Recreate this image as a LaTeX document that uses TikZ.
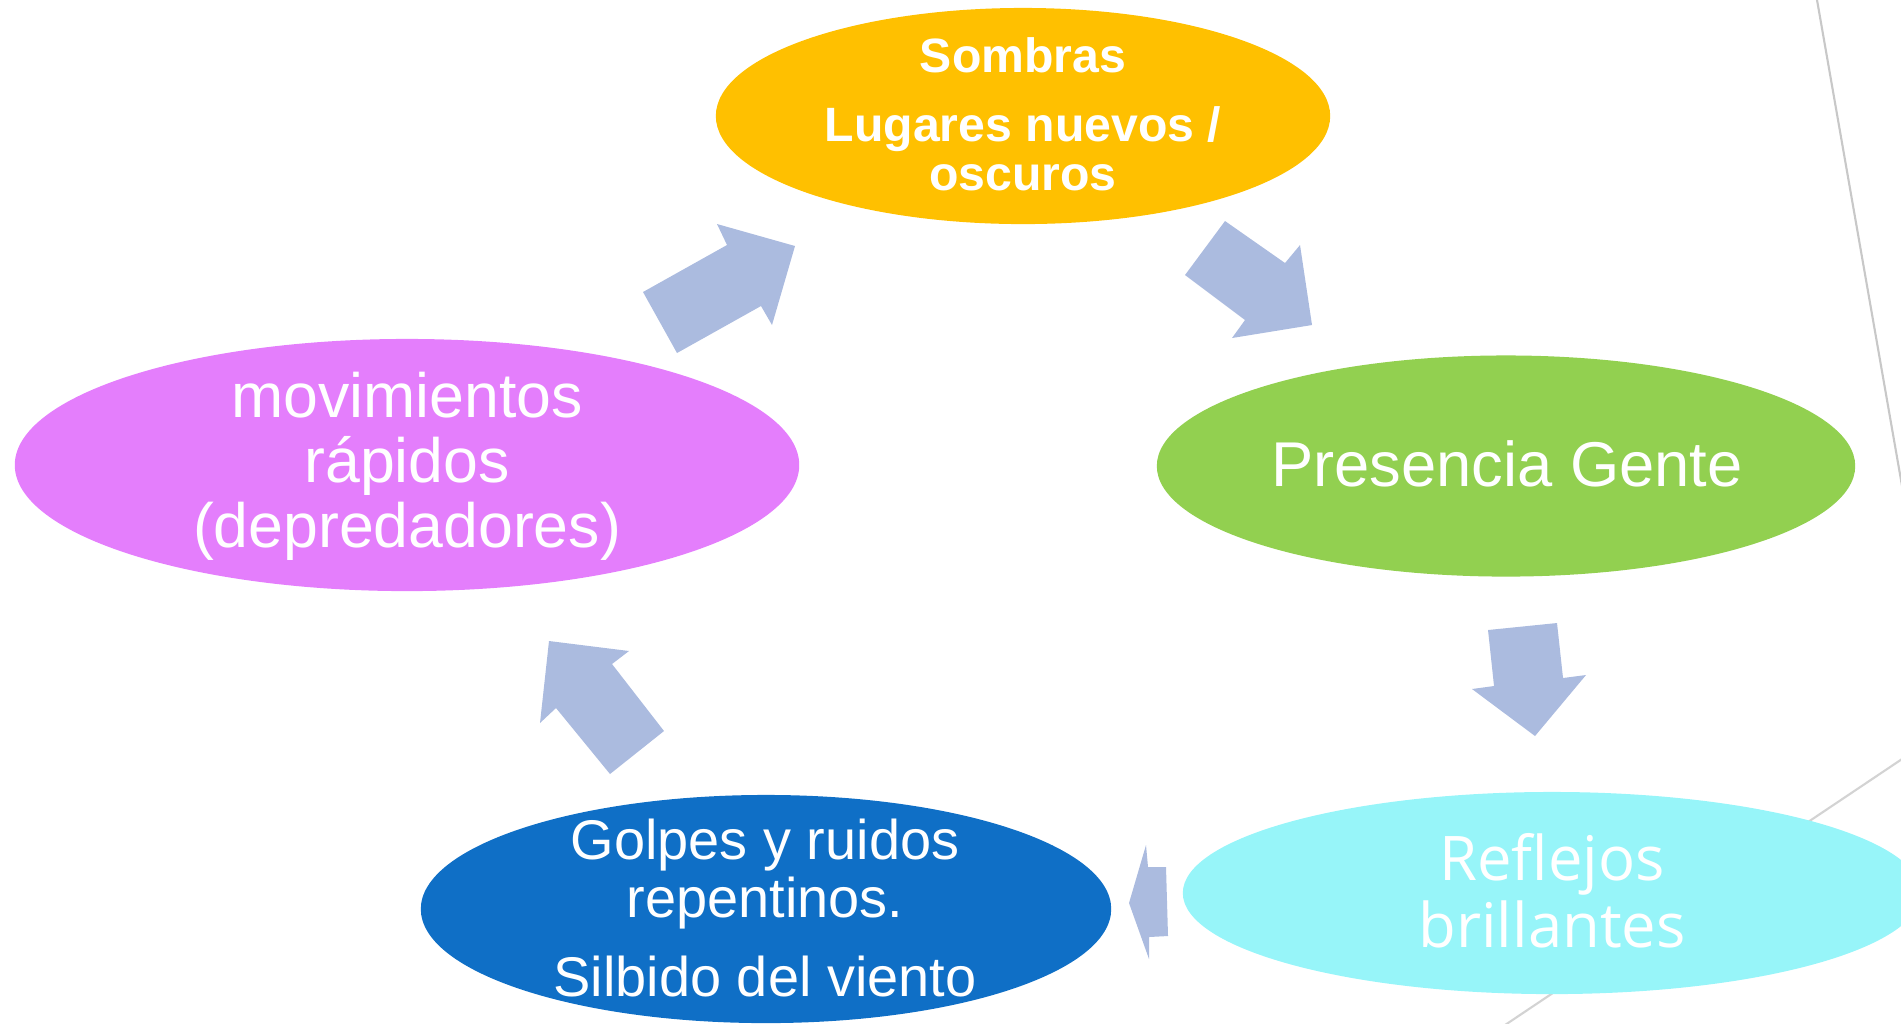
\documentclass[tikz,border=0pt]{standalone}
\usepackage{fontspec}
\setmainfont{Liberation Sans}
\newfontfamily\osfont{Open Sans}
\usetikzlibrary{shapes.geometric}
\definecolor{cyel}{HTML}{FFC000}
\definecolor{cgreen}{HTML}{92D050}
\definecolor{cmag}{HTML}{E47EFC}
\definecolor{cblue}{HTML}{0F6FC6}
\definecolor{ccyan}{HTML}{97F5F9}
\definecolor{carrow}{HTML}{ABBBDF}
\definecolor{cline}{HTML}{C8C8C8}
\tikzset{
  oval/.style={ellipse, draw=none, inner sep=0pt},
  txt/.style={text=white, align=center, inner sep=0pt},
  blockarrow/.style={fill=carrow, draw=none},
  guideline/.style={draw=cline, line width=0.6pt}
}
\begin{document}
\begin{tikzpicture}[x=0.01cm,y=-0.01cm]
\useasboundingbox (0,0) rectangle (1901,1023);
\clip (0,0) rectangle (1901,1023);
% background guide lines
\coordinate (l1a) at (1817,0);
\coordinate (l1b) at (1905,503);
\coordinate (l2a) at (1905,757);
\coordinate (l2b) at (1505,1025);
\draw[guideline] (l1a) -- (l1b);
\draw[guideline, draw=cline!80] (l2a) -- (l2b);
% ellipses
\node[oval, fill=cyel, minimum width=6.14cm, minimum height=2.16cm] (yel) at (1023,116) {};
\node[oval, fill=cgreen, minimum width=6.98cm, minimum height=2.21cm] (grn) at (1506,466) {};
\node[oval, fill=ccyan, minimum width=7.38cm, minimum height=2.02cm] (cya) at (1552,893) {};
\node[oval, fill=cblue, minimum width=6.90cm, minimum height=2.28cm] (blu) at (766,909) {};
\node[oval, fill=cmag, minimum width=7.84cm, minimum height=2.52cm] (mag) at (407,465) {};
% texts
\node[txt, font=\bfseries\fontsize{13.7}{14}\selectfont] (yeltxt) at (1023,114)
  {Sombras\\[5.6pt]Lugares nuevos /\\oscuros};
\node[txt, font=\fontsize{18}{19}\selectfont] (grntxt) at (1507,464) {Presencia Gente};
\node[txt, font=\osfont\fontsize{17.5}{19}\selectfont] (cyatxt) at (1552,891) {Reflejos\\brillantes};
\node[txt, font=\fontsize{15.9}{16.5}\selectfont] (blutxt) at (765,908)
  {Golpes y ruidos\\repentinos.\\[6pt]Silbido del viento};
\node[txt, font=\fontsize{17.8}{18.5}\selectfont] (magtxt) at (407,466)
  {movimientos\\rápidos\\(depredadores)};
% block arrows
\fill[blockarrow] (643,292) -- (727,245) -- (717,224) -- (795,246) -- (772,325) -- (761,306) -- (677,353) -- cycle;
\fill[blockarrow] (1225,221) -- (1285,263) -- (1300,245) -- (1312,325) -- (1232,338) -- (1245,320) -- (1185,275) -- cycle;
\fill[blockarrow] (1488,630) -- (1557,623) -- (1563,678) -- (1586,675) -- (1535,736) -- (1472,689) -- (1494,686) -- cycle;
\fill[blockarrow] (1166,867) -- (1148,867) -- (1146,845) -- (1129,903) -- (1149,959) -- (1149,937) -- (1168,936) -- cycle;
\fill[blockarrow] (610,774) -- (664,731) -- (612,664) -- (629,651) -- (549,641) -- (540,723) -- (556,708) -- cycle;
\end{tikzpicture}
\end{document}
